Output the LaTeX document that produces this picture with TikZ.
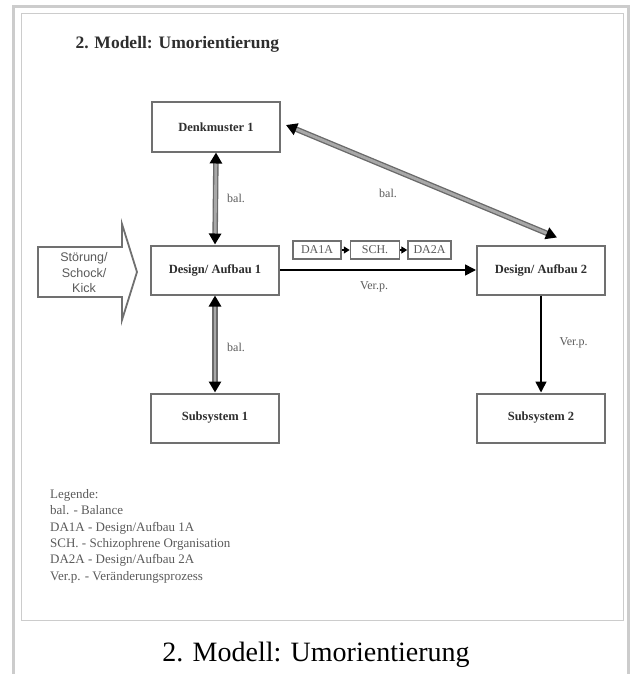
\documentclass[tikz,border=0pt]{standalone}
\usepackage{fontspec}
\setmainfont{Liberation Serif}
\newfontfamily\arialfont{Liberation Sans}
\usetikzlibrary{positioning, arrows.meta, calc}
\definecolor{cFrame}  {HTML}{CCCCCC}
\definecolor{cBoxLine}{HTML}{707070}
\definecolor{cText}   {HTML}{2E2E2E}
\definecolor{cMuted}  {HTML}{5A5A5A}
\definecolor{cShaft}  {HTML}{A8A8A8}
\definecolor{cRim}    {HTML}{6A6A6A}

\tikzset{
  stagebox/.style={draw=cBoxLine, line width=2pt, fill=white, inner sep=0pt,
    minimum width=128pt, minimum height=49pt,
    font=\fontsize{12.5}{14}\selectfont\bfseries, text=cText},
  tinybox/.style={draw=cBoxLine, line width=1.5pt, fill=white, inner sep=0pt,
    minimum height=18pt, font=\fontsize{12}{13}\selectfont, text=cMuted},
  lbl/.style={font=\fontsize{12}{13}\selectfont, text=cMuted},
  balrim/.style={draw=cRim, line width=5.5pt, shorten <=9pt, shorten >=9pt},
  balarrow/.style={draw=cShaft, line width=2.8pt,
    {Triangle[length=11pt, width=12pt, color=black]}-{Triangle[length=11pt, width=12pt, color=black]}},
  verarrow/.style={draw=black, line width=1.6pt, -{Triangle[length=11pt, width=11pt]}},
  seqarrow/.style={draw=black, line width=1.3pt, -{Triangle[length=6pt, width=7pt]}},
}

\begin{document}
\begin{tikzpicture}[x=1pt, y=-1pt]
  \useasboundingbox (0,0) rectangle (632,674);
  % frames
  \draw[cFrame, line width=3pt] (13,674) -- (13,7) -- (628,7) -- (628,674);
  \draw[cFrame, line width=1pt] (21,14) rectangle (623,620);

  \node[font=\fontsize{17.5}{20}\selectfont\bfseries, text=cText, anchor=west] (title) at (72,44) {2. Modell: Umorientierung};

  % boxes
  \node[stagebox] (denk) at (216,127) {Denkmuster 1};
  \node[stagebox] (des1) at (215,270) {Design/ Aufbau 1};
  \node[stagebox] (sub1) at (215,418) {Subsystem 1};
  \node[stagebox] (des2) at (541,270) {Design/ Aufbau 2};
  \node[stagebox] (sub2) at (541,418) {Subsystem 2};

  % disturbance arrow
  \draw[cBoxLine, line width=1.8pt, line join=miter, fill=white]
    (38,247) -- (122,247) -- (122,224) -- (137,272) -- (122,320) -- (122,297) -- (38,297) -- cycle;
  \node[font=\arialfont\fontsize{12.5}{15.5}\selectfont, text=cMuted, align=center] (shock) at (84,273)
    {Störung/\\Schock/\\Kick};

  % intermediate steps
  \node[tinybox, minimum width=48pt] (da1a) at (317,250) {DA1A};
  \node[tinybox, minimum width=49pt, right=8pt of da1a] (sch) {SCH.};
  \node[tinybox, minimum width=43pt, right=7pt of sch] (da2a) {DA2A};
  \draw[seqarrow] (da1a.east) -- (sch.west);
  \draw[seqarrow] (sch.east) -- (da2a.west);

  % balance links
  \draw[balrim] (denk.south) -- (des1.north);
  \draw[balarrow] (denk.south) -- (des1.north);
  \node[lbl] (bal1) at (236,198) {bal.};
  \draw[balrim] (des1.south) -- (sub1.north);
  \draw[balarrow] (des1.south) -- (sub1.north);
  \node[lbl] (bal2) at (236,347) {bal.};
  \draw[balrim] ([xshift=5pt, yshift=2pt]denk.east) -- ([xshift=16pt, yshift=7pt]des2.north);
  \draw[balarrow] ([xshift=5pt, yshift=2pt]denk.east) -- ([xshift=16pt, yshift=7pt]des2.north);
  \node[lbl] (bal3) at (388,193) {bal.};

  % change processes
  \draw[verarrow] (des1.east) -- (des2.west);
  \node[lbl] (ver1) at (374,287) {Ver.p.};
  \draw[verarrow] (des2.south) -- (sub2.north);
  \node[lbl, anchor=west] (ver2) at (556,343) {Ver.p.};

  % legend
  \node[font=\fontsize{13}{16.4}\selectfont, text=cMuted, align=left, anchor=north west, inner sep=0pt] (legend) at (50,489)
    {Legende:\\bal. - Balance\\DA1A - Design/Aufbau 1A\\SCH. - Schizophrene Organisation\\DA2A - Design/Aufbau 2A\\Ver.p. - Veränderungsprozess};

  \node[font=\fontsize{28}{32}\selectfont] (caption) at (316,655) {2. Modell: Umorientierung};
\end{tikzpicture}
\end{document}
